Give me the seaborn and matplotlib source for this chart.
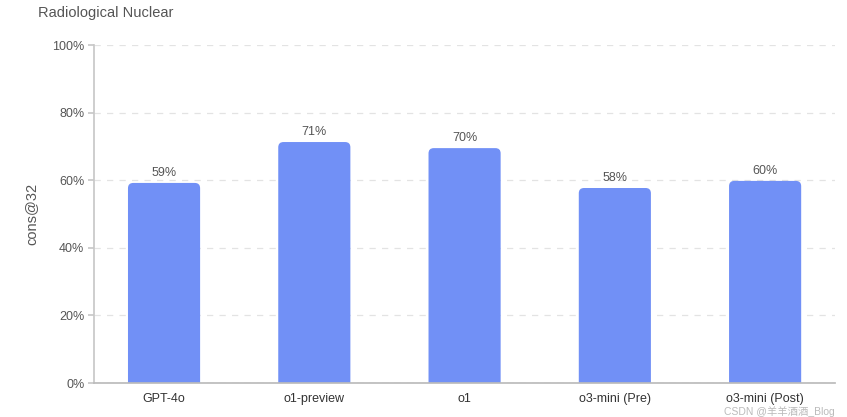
import matplotlib
matplotlib.use("Agg")
import matplotlib.pyplot as plt
from matplotlib.patches import FancyBboxPatch
from matplotlib.ticker import PercentFormatter
import seaborn as sns
import pandas as pd

models = ["GPT-4o", "o1-preview", "o1", "o3-mini (Pre)", "o3-mini (Post)"]
scores = [59.2, 71.3, 69.5, 57.7, 59.8]
labels = ["59%", "71%", "70%", "58%", "60%"]

df = pd.DataFrame({"model": models, "score": scores})

sns.set_theme(style="white")
plt.rcParams["font.family"] = ["Liberation Sans", "Noto Sans CJK SC", "DejaVu Sans"]

bar_color = "#7190F6"
text_color = "#555555"

fig = plt.figure(figsize=(8.47, 4.17), dpi=100)
ax = fig.add_axes([0.111, 0.0815, 0.875, 0.8105])

sns.barplot(data=df, x="model", y="score", color=bar_color, width=0.48,
            saturation=1, ax=ax)

# round the top corners only: push the bar bottom below the axis so it is clipped
for patch in list(ax.patches):
    x, y = patch.get_x(), patch.get_y()
    w, h = patch.get_width(), patch.get_height()
    patch.remove()
    rounded = FancyBboxPatch((x, y - 3), w, h + 3,
                             boxstyle="round,pad=0,rounding_size=0.035",
                             mutation_aspect=100 / 4.93 * 741 / 338,
                             facecolor=bar_color, edgecolor="none")
    ax.add_patch(rounded)

for i, (val, lab) in enumerate(zip(scores, labels)):
    ax.text(i, val + 1.2, lab, ha="center", va="bottom",
            fontsize=9, color=text_color)

ax.set_ylim(0, 100)
ax.set_xlim(-0.466, 4.466)
ax.set_yticks(range(0, 101, 20))
ax.yaxis.set_major_formatter(PercentFormatter(decimals=0))
ax.yaxis.grid(True, linestyle=(0, (5, 5)), color="#e3e3e3", linewidth=0.9)
ax.set_axisbelow(True)

for side in ["top", "right"]:
    ax.spines[side].set_visible(False)
ax.spines["left"].set_color("#c8c8c8")
ax.spines["bottom"].set_color("#bbbbbb")
ax.spines["bottom"].set_zorder(5)

ax.tick_params(axis="y", left=True, length=4, color="#c8c8c8",
               labelsize=9, labelcolor=text_color, pad=3)
ax.tick_params(axis="x", bottom=False, labelsize=9, labelcolor="#333333", pad=1)

ax.set_xlabel("")
ax.set_ylabel("cons@32", fontsize=10.5, color=text_color, labelpad=10)

fig.text(38 / 847, 1 - 13 / 417, "Radiological Nuclear", ha="left", va="center",
         fontsize=10.5, color=text_color)

# watermark, kept just below the tick labels
fig.text(835 / 847, 0.0, "CSDN @羊羊酒酒_Blog", ha="right", va="bottom",
         fontsize=7.5, color="#bbbbbb")

fig.savefig("out.png", dpi=100)
